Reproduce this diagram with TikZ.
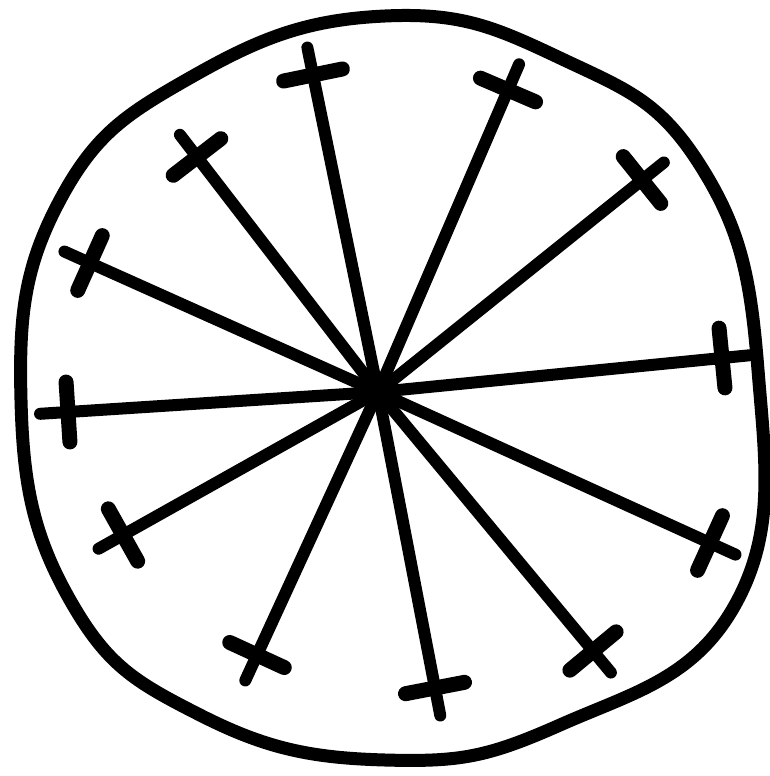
\documentclass[tikz,border=0pt]{standalone}
\usetikzlibrary{calc}
\begin{document}
\begin{tikzpicture}[
x=1pt, y=-1pt,
rim/.style={line width=13pt, line join=round},
ray/.style={line width=12pt, line cap=round},
guard/.style={line width=15pt, line cap=round}
]
\useasboundingbox (0,0) rectangle (770,776);

% outer rim, drawn freehand
\draw[rim] plot[smooth cycle, tension=0.75] coordinates {
(385,16) (560,58) (700,165) (758,370) (735,605) (560,725) (385,760)
(200,715) (70,600) (21,400) (60,200) (195,75)};

% hub and tips
\coordinate (hub) at (378,392);
\foreach \name/\px/\py in {t1/313/75, t2/508/90, t3/642/180, t4/722/358,
  t5/710/543, t6/593/651, t7/435/688, t8/257/655, t9/123/535,
  t10/68/412, t11/90/263, t12/197/157}
  \coordinate (\name) at (\px,\py);

% rays with their crossbars
\foreach \name in {t1,t2,t3,t4,t5,t6,t7,t8,t9,t10,t11,t12} {
  \draw[ray] (hub) -- ($(\name)!-28pt!(hub)$);
  \draw[guard] ($(\name)!30pt!90:(hub)$) -- ($(\name)!30pt!-90:(hub)$);
}
\fill (hub) circle (14);

\end{tikzpicture}
\end{document}
